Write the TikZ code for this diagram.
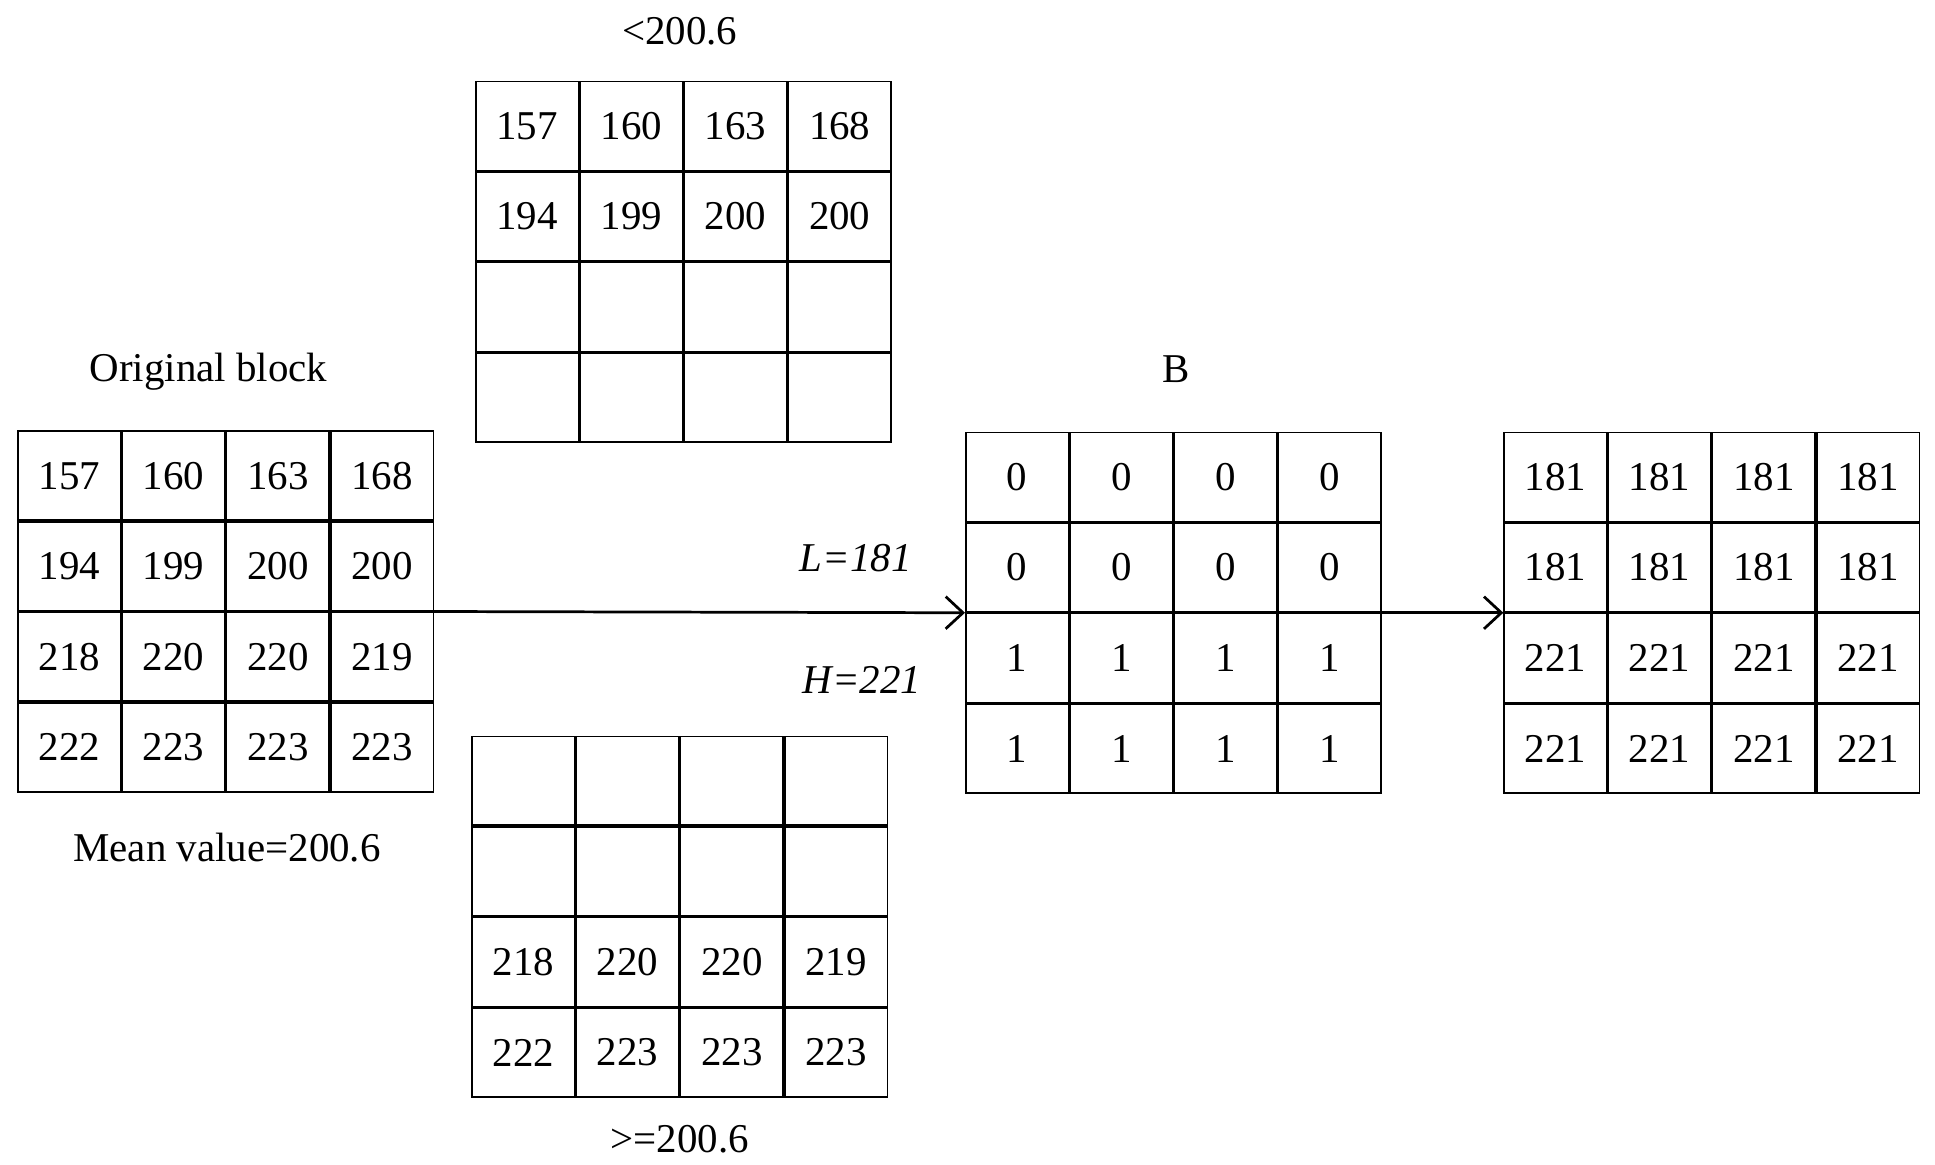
\documentclass[tikz,border=0pt]{standalone}
\usepackage{fontspec}
\setmainfont{Liberation Serif}
\usetikzlibrary{arrows.meta}
\begin{document}
\begin{tikzpicture}[x=1pt,y=1pt,
  cell/.style={draw,line width=1.3pt,minimum width=82.7pt,minimum height=71.7pt,inner sep=0pt,font=\fontsize{33}{38}\selectfont},
  lbl/.style={font=\fontsize{33}{38}\selectfont,inner sep=0pt},
  arr/.style={line width=2.2pt,-{Straight Barb[length=14pt,width=26pt,line width=2.2pt]}}]
\useasboundingbox (0,0) rectangle (1560,-938.5);
\newcommand\mygrid[4]{%
  \foreach \row [count=\r] in {#4}{%
    \foreach \v [count=\c] in \row{%
      \node[cell] (#1-\r-\c) at ({#2+42+84*(\c-1)},{-(#3+36.5+73*(\r-1))}) {\v};
    }}}
\mygrid{o}{14}{347}{{157,160,163,168},{194,199,200,200},{218,220,220,219},{222,223,223,223}}
\mygrid{t}{383}{65}{{157,160,163,168},{194,199,200,200},{~,~,~,~},{~,~,~,~}}
\mygrid{d}{380}{593}{{~,~,~,~},{~,~,~,~},{218,220,220,219},{222,223,223,223}}
\mygrid{b}{778}{348}{{0,0,0,0},{0,0,0,0},{1,1,1,1},{1,1,1,1}}
\mygrid{r}{1212}{348}{{181,181,181,181},{181,181,181,181},{221,221,221,221},{221,221,221,221}}
\node[lbl] (lt) at (548,-25) {<200.6};
\node[lbl] (ld) at (548,-918) {>=200.6};
\node[lbl] (lb) at (948,-298) {B};
\node[lbl] (lo) at (168,-300) {Original block};
\node[lbl] (lm) at (183,-683) {Mean value=200.6};
\node[lbl] (lL) at (690,-450) {\textit{L=181}};
\node[lbl] (lH) at (695,-548) {\textit{H=221}};
\draw[arr] (o-2-4.south east) -- (b-2-1.south west);
\draw[arr] (b-2-4.south east) -- (r-2-1.south west);
\end{tikzpicture}
\end{document}
